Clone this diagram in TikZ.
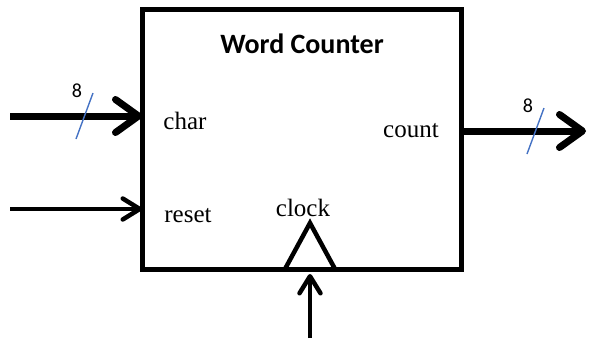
\documentclass[tikz,border=0pt]{standalone}
\usepackage{fontspec}
\setmainfont{Liberation Serif}
\newfontfamily\titlefont{Carlito}
\usetikzlibrary{arrows.meta}
\definecolor{slashblue}{RGB}{68,114,196}
\begin{document}
\begin{tikzpicture}[x=1pt,y=-1pt,
  blockbox/.style={draw,line width=5pt,minimum width=319pt,minimum height=260pt,inner sep=0pt,outer sep=0pt},
  bus/.style={line width=7pt,-{Straight Barb[round,length=23pt,width=33pt]}},
  wire/.style={line width=4.5pt,-{Straight Barb[round,length=17pt,width=21pt]}},
  portlabel/.style={font=\fontsize{25}{25}\selectfont,anchor=base,inner sep=0pt},
  widthlabel/.style={font=\titlefont\fontsize{20}{20}\selectfont,anchor=base,inner sep=0pt},
  busslash/.style={draw=slashblue,line width=1.4pt}]
\useasboundingbox (0,0) rectangle (589,338);
% the block
\node[blockbox] (blk) at (301.5,139) {};
\node[font=\titlefont\bfseries\fontsize{28}{28}\selectfont,anchor=base,inner sep=0pt] (title) at (302,53) {Word Counter};
% port names inside the block
\node[portlabel] (charlbl) at (185,129) {char};
\node[portlabel] (resetlbl) at (188,222) {reset};
\node[portlabel] (countlbl) at (411,137) {count};
\node[portlabel] (clocklbl) at (303,216) {clock};
% clock edge marker
\coordinate (clkL) at (285,269);
\coordinate (clkTop) at (310,223);
\coordinate (clkR) at (335,269);
\draw[line width=4.5pt,line join=miter] (clkL) -- (clkTop) -- (clkR);
% input and output connectors
\coordinate (charin) at (10,116);
\coordinate (resetin) at (10,209);
\coordinate (countout) at (586,131);
\coordinate (clockin) at (310,338);
\coordinate (clockend) at (310,274);
\draw[bus] (charin) -- (charin -| blk.west);
\draw[wire] (resetin) -- (resetin -| blk.west);
\draw[bus] (countout -| blk.east) -- (countout);
\draw[wire] (clockin) -- (clockend);
% bus width marks
\coordinate (s1a) at (76,139);
\coordinate (s1b) at (93,93);
\draw[busslash] (s1a) -- (s1b);
\node[widthlabel] (w1) at (77,97) {8};
\coordinate (s2a) at (527,154);
\coordinate (s2b) at (544,108);
\draw[busslash] (s2a) -- (s2b);
\node[widthlabel] (w2) at (528,112) {8};
\end{tikzpicture}
\end{document}
